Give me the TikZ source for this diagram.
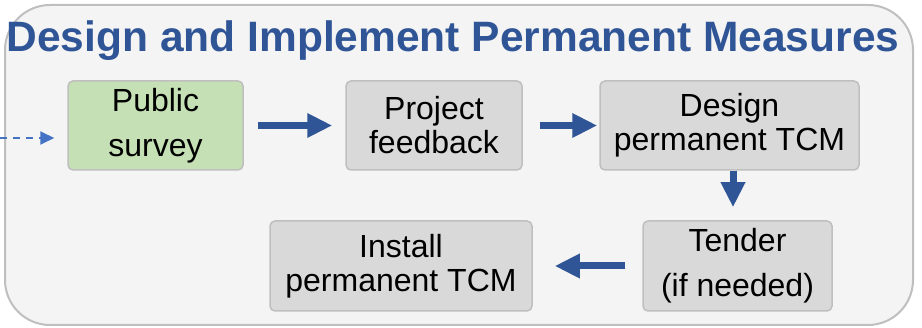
\documentclass[tikz,border=0pt]{standalone}
\usepackage{fontspec}
\setmainfont{Liberation Sans}
\usepackage{tikz}
\usetikzlibrary{arrows.meta}
\usetikzlibrary{positioning}
\definecolor{titleblue}{RGB}{47,85,151}
\definecolor{lightblue}{RGB}{68,114,196}
\definecolor{boxgray}{RGB}{217,217,217}
\definecolor{edgegray}{RGB}{191,191,191}
\definecolor{panel}{RGB}{244,244,244}
\definecolor{surveygreen}{RGB}{197,224,180}

\begin{document}
\begin{tikzpicture}[x=1pt,y=-1pt,
	box/.style={draw=edgegray, line width=1.5pt, fill=boxgray, rounded corners=5pt, align=center, inner sep=0pt, font=\fontsize{32}{34}\selectfont},
	flow/.style={draw=titleblue, line width=7pt, -{Triangle[length=25pt,width=23pt]}}]
	\useasboundingbox (0,0) rectangle (922,328);
	\draw[edgegray, fill=panel, line width=2pt, rounded corners=45pt] (5,5) rectangle (913,325);
	\node[anchor=base, text=titleblue, font=\fontsize{42.5}{44}\selectfont\bfseries] (title) at (453,52) {Design and Implement Permanent Measures};
	\node[box, fill=surveygreen, minimum width=175pt, minimum height=89pt, font=\fontsize{32}{45}\selectfont] (public) at (155.5,125.5) {Public\\survey};
	\node[box, minimum width=176pt, minimum height=89pt] (project) at (434,125.5) {Project\\feedback};
	\node[box, minimum width=259pt, minimum height=89pt] (design) at (729.5,125.5) {Design\\permanent TCM};
	\node[box, minimum width=189pt, minimum height=90pt, font=\fontsize{32}{45}\selectfont] (tender) at (737.5,266) {Tender\\(if needed)};
	\node[box, minimum width=262pt, minimum height=90pt] (install) at (401,266) {Install\\permanent TCM};
	\coordinate (start) at (0,138);
	\draw[lightblue, line width=2pt, dash pattern=on 7pt off 6pt, -{Triangle[length=14pt,width=13pt]}, shorten >=13pt] (start) -- (start -| public.west);
	\draw[flow, shorten <=14pt, shorten >=13pt] (public) -- (project);
	\draw[flow, shorten <=17pt, shorten >=2pt] (project) -- (design);
	\draw[flow, shorten >=13pt] ([xshift=3.5pt]design.south) -- ([xshift=-4.5pt]tender.north);
	\draw[flow, shorten <=17pt, shorten >=22pt] (tender) -- (install);
\end{tikzpicture}
\end{document}
